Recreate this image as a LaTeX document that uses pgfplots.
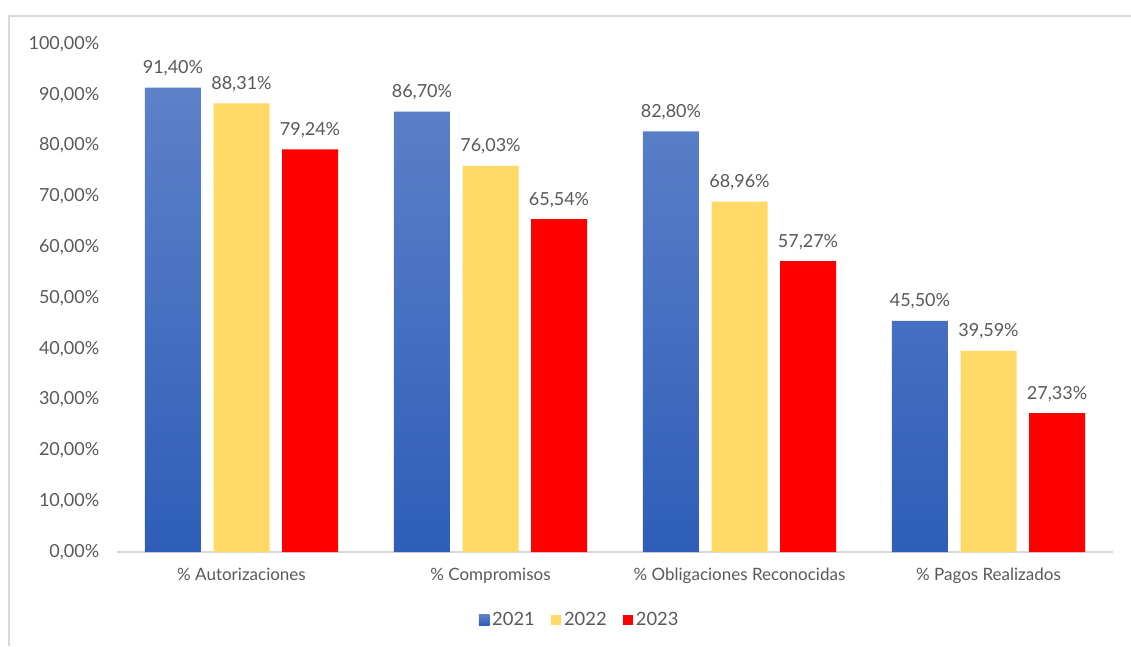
\documentclass[border=0pt]{standalone}
\usepackage{fontspec}
\setmainfont{Lato}
\usepackage{pgfplots}
\pgfplotsset{compat=1.18}
\definecolor{txt}{RGB}{89,89,89}
\definecolor{axgray}{RGB}{217,217,217}
\definecolor{framec}{RGB}{217,217,217}
\definecolor{bluetop}{RGB}{93,129,201}
\definecolor{bluebot}{RGB}{46,94,184}
\definecolor{yel}{RGB}{255,217,102}
\definecolor{rd}{RGB}{255,0,0}
\begin{document}
\begin{tikzpicture}
\path[use as bounding box] (0pt,0pt) rectangle (848.25pt,484.5pt);
\draw[framec, line width=1.5pt] (6.75pt,0pt) -- (6.75pt,472.5pt) -- (848.25pt,472.5pt);
\begin{axis}[
  at={(87.75pt,70.5pt)}, anchor=south west,
  scale only axis, width=747pt, height=381pt,
  ymin=0, ymax=100, xmin=-0.5, xmax=3.5,
  ybar=9.4pt, bar width=42pt,
  /pgf/number format/assume math mode=true,
  xtick={0,1,2,3},
  xticklabels={\% Autorizaciones, \% Compromisos, \% Obligaciones Reconocidas, \% Pagos Realizados},
  ytick={0,10,20,30,40,50,60,70,80,90,100},
  yticklabel={\pgfmathprintnumber[fixed,fixed zerofill,precision=2,use comma]{\tick}\%},
  major tick length=0pt,
  axis x line*=bottom, axis y line*=left,
  x axis line style={-, draw=axgray, line width=1.5pt},
  y axis line style={draw=none},
  yticklabel style={font=\fontsize{13.5}{16}\selectfont, text=txt, xshift=-9.75pt},
  xticklabel style={font=\fontsize{12.75}{15}\selectfont, text=txt, yshift=-8.5pt},
  nodes near coords={\pgfmathprintnumber[fixed,fixed zerofill,precision=2,use comma]{\pgfplotspointmeta}\%},
  every node near coord/.append style={font=\fontsize{13.5}{16}\selectfont, text=txt, fill=white, inner sep=2pt, yshift=6.5pt},
  legend style={at={(0.4649,-0.1339)}, anchor=center, draw=none, fill=none,
    legend columns=-1, font=\fontsize{13.75}{16}\selectfont, text=txt,
    /tikz/every even column/.append style={column sep=10pt}},
  legend image code/.code={\fill[#1] (0pt,-4pt) rectangle (8pt,4pt);},
]
\addplot[draw=none, top color=bluetop, bottom color=bluebot] coordinates {(0,91.40) (1,86.70) (2,82.80) (3,45.50)};
\addplot[draw=none, fill=yel] coordinates {(0,88.31) (1,76.03) (2,68.96) (3,39.59)};
\addplot[draw=none, fill=rd] coordinates {(0,79.24) (1,65.54) (2,57.27) (3,27.33)};
\legend{2021,2022,2023}
\end{axis}
\end{tikzpicture}
\end{document}
